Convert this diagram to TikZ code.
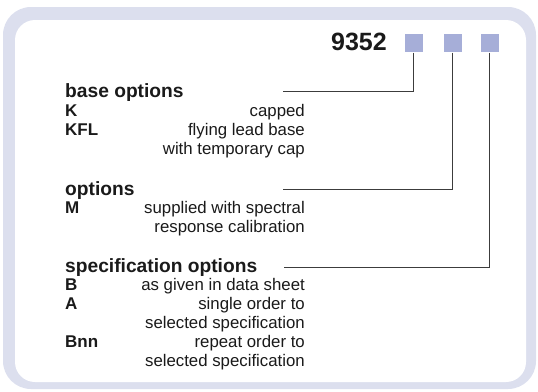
\documentclass[tikz,border=0pt]{standalone}
\usepackage{fontspec}
\setmainfont{Liberation Sans}
\definecolor{frame}{HTML}{DCDFEE}
\definecolor{sq}{HTML}{A6AED8}
\definecolor{ink}{HTML}{1A1A1A}
\begin{document}
\begin{tikzpicture}[x=1pt,y=-1pt,
  head/.style={anchor=base west,inner sep=0pt,font=\fontsize{19.2}{22}\selectfont\bfseries,text=ink},
  code/.style={anchor=base west,inner sep=0pt,font=\fontsize{17}{20}\selectfont\bfseries,text=ink},
  desc/.style={anchor=base east,inner sep=0pt,font=\fontsize{16.8}{19.3}\selectfont,text=ink},
  sqbox/.style={fill=sq,draw=none,minimum size=18.3pt,inner sep=0pt},
  conn/.style={draw=ink!85,line width=0.9pt}]
\useasboundingbox (0,0) rectangle (538,391);
\fill[frame,rounded corners=28pt] (3,7) rectangle (536,389);
\fill[white,rounded corners=20pt] (15,20) rectangle (526,382);
% number and boxes
\node[anchor=base east,inner sep=0pt,font=\fontsize{25}{28}\selectfont\bfseries,text=ink] (num) at (387,50) {9352};
\node[sqbox] (s1) at (413.8,43.3) {};
\node[sqbox] (s2) at (452.8,43.3) {};
\node[sqbox] (s3) at (489.8,43.3) {};
\coordinate (e1) at (283,91);
\coordinate (e2) at (283,189.5);
\coordinate (e3) at (284,267);
\draw[conn] (s1.south) |- (e1);
\draw[conn] (s2.south) |- (e2);
\draw[conn] (s3.south) |- (e3);
% base options
\node[head] (h1) at (65,97) {base options};
\node[code] (k) at (65,116) {K};
\node[desc] (kd) at (305,116) {capped};
\node[code] (kfl) at (65,135) {KFL};
\node[desc] (kfld) at (305,135) {flying lead base};
\node[desc] (kfld2) at (305,154) {with temporary cap};
% options
\node[head] (h2) at (65,195) {options};
\node[code] (m) at (65,213) {M};
\node[desc] (md) at (305,213) {supplied with spectral};
\node[desc] (md2) at (305,232) {response calibration};
% specification options
\node[head] (h3) at (65,272) {specification options};
\node[code] (b) at (65,290) {B};
\node[desc] (bd) at (305,290) {as given in data sheet};
\node[code] (a) at (65,309) {A};
\node[desc] (ad) at (305,309) {single order to};
\node[desc] (ad2) at (305,328) {selected specification};
\node[code] (bnn) at (65,347) {Bnn};
\node[desc] (bnnd) at (305,347) {repeat order to};
\node[desc] (bnnd2) at (305,366) {selected specification};
\end{tikzpicture}
\end{document}
